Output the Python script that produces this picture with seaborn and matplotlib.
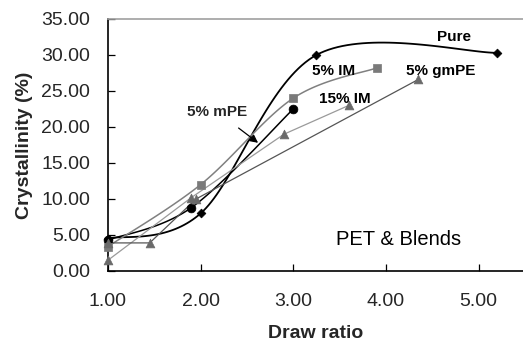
import numpy as np
import pandas as pd
import matplotlib
matplotlib.use("Agg")
import matplotlib.pyplot as plt
import seaborn as sns

# ---- data ----
pure_x = [1.00, 2.00, 3.25, 5.20]
pure_y = [4.5, 8.0, 30.0, 30.3]

mpe_x = [1.00, 1.90, 3.00]
mpe_y = [4.3, 8.8, 22.5]

im5_x = [1.00, 2.00, 3.00, 3.90]
im5_y = [3.4, 12.0, 24.0, 28.2]

im15_x = [1.00, 1.90, 2.90, 3.60]
im15_y = [1.5, 10.2, 19.0, 23.0]

gmpe_x = [1.00, 1.45, 1.95, 4.35]
gmpe_y = [3.9, 3.9, 10.0, 26.6]

x_ticks = [1.0, 2.0, 3.0, 4.0, 5.0]
y_ticks = [0, 5, 10, 15, 20, 25, 30, 35]

sns.set_theme(style="white")
plt.rcParams['font.family'] = ['Liberation Sans', 'DejaVu Sans']


def smooth(xs, ys, n=40):
    """Excel-style smoothed line (Catmull-Rom Bezier) through the points."""
    P = np.column_stack([xs, ys]).astype(float)
    out = []
    for i in range(len(P) - 1):
        p0 = P[i - 1] if i > 0 else P[i]
        p1 = P[i]
        p2 = P[i + 1]
        p3 = P[i + 2] if i + 2 < len(P) else P[i + 1]
        c1 = p1 + (p2 - p0) / 6.0
        c2 = p2 - (p3 - p1) / 6.0
        t = np.linspace(0, 1, n)[:, None]
        seg = ((1 - t) ** 3) * p1 + 3 * ((1 - t) ** 2) * t * c1 + 3 * (1 - t) * t ** 2 * c2 + t ** 3 * p2
        out.append(seg if i == 0 else seg[1:])
    arr = np.vstack(out)
    return pd.DataFrame({"x": arr[:, 0], "y": arr[:, 1]})


fig = plt.figure(figsize=(5.23, 3.45), dpi=100)
ax = fig.add_axes([0.2065, 0.2145, 0.7935, 0.7305])

series = [
    (pure_x, pure_y, True, "black", 1.3, "black", "D", 20),
    (mpe_x, mpe_y, True, "black", 1.1, "black", "o", 40),
    (im5_x, im5_y, True, "#808080", 1.1, "#7a7a7a", "s", 36),
    (im15_x, im15_y, False, "#9a9a9a", 0.9, "#6a6a6a", "^", 40),
    (gmpe_x, gmpe_y, False, "#555555", 0.9, "#6a6a6a", "^", 40),
]

for xs, ys, sm, lc, lw, mc, mk, ms in series:
    if sm:
        d = smooth(xs, ys)
    else:
        d = pd.DataFrame({"x": xs, "y": ys})
    sns.lineplot(data=d, x="x", y="y", sort=False, color=lc, linewidth=lw, ax=ax)
    sns.scatterplot(x=xs, y=ys, marker=mk, s=ms, color=mc, edgecolor=mc,
                    linewidth=0.5, ax=ax, zorder=5, clip_on=False)

ax.set_xlim(1.0, 5.48)
ax.set_ylim(0, 35)
ax.set_xticks(x_ticks)
ax.set_yticks(y_ticks)
ax.set_xticklabels([f"{v:.2f}" for v in x_ticks], fontsize=14)
ax.set_yticklabels([f"{v:.2f}" for v in y_ticks], fontsize=14)
ax.tick_params(axis="both", direction="in", length=5, width=0.9, color="black",
               left=True, bottom=True)
ax.tick_params(axis="y", pad=13)
ax.tick_params(axis="x", pad=16)

for s in ["left", "bottom"]:
    ax.spines[s].set_color("black")
    ax.spines[s].set_linewidth(1.2)
ax.spines["top"].set_color("#a0a0a0")
ax.spines["top"].set_linewidth(1.2)
ax.spines["right"].set_visible(False)

ax.set_xlabel("Draw ratio", fontsize=14, fontweight="bold", labelpad=11)
ax.set_ylabel("Crystallinity (%)", fontsize=14, fontweight="bold", labelpad=6)

lab = dict(fontsize=11, fontweight="bold", ha="center", va="center", color="black")
ax.text(4.74, 32.5, "Pure", **lab)
ax.text(3.44, 27.8, "5% IM", **lab)
ax.text(4.59, 27.8, "5% gmPE", **lab)
ax.text(3.56, 23.9, "15% IM", **lab)
ax.annotate("5% mPE", xy=(2.62, 17.8), xytext=(2.18, 22.1), ha="center", va="center",
            fontsize=11, fontweight="bold",
            arrowprops=dict(arrowstyle="-|>", color="black", lw=0.9,
                            shrinkA=7, shrinkB=0, mutation_scale=12))
ax.text(4.14, 4.44, "PET & Blends", fontsize=14.5, ha="center", va="center", color="black")

fig.savefig("out.png", dpi=100)
